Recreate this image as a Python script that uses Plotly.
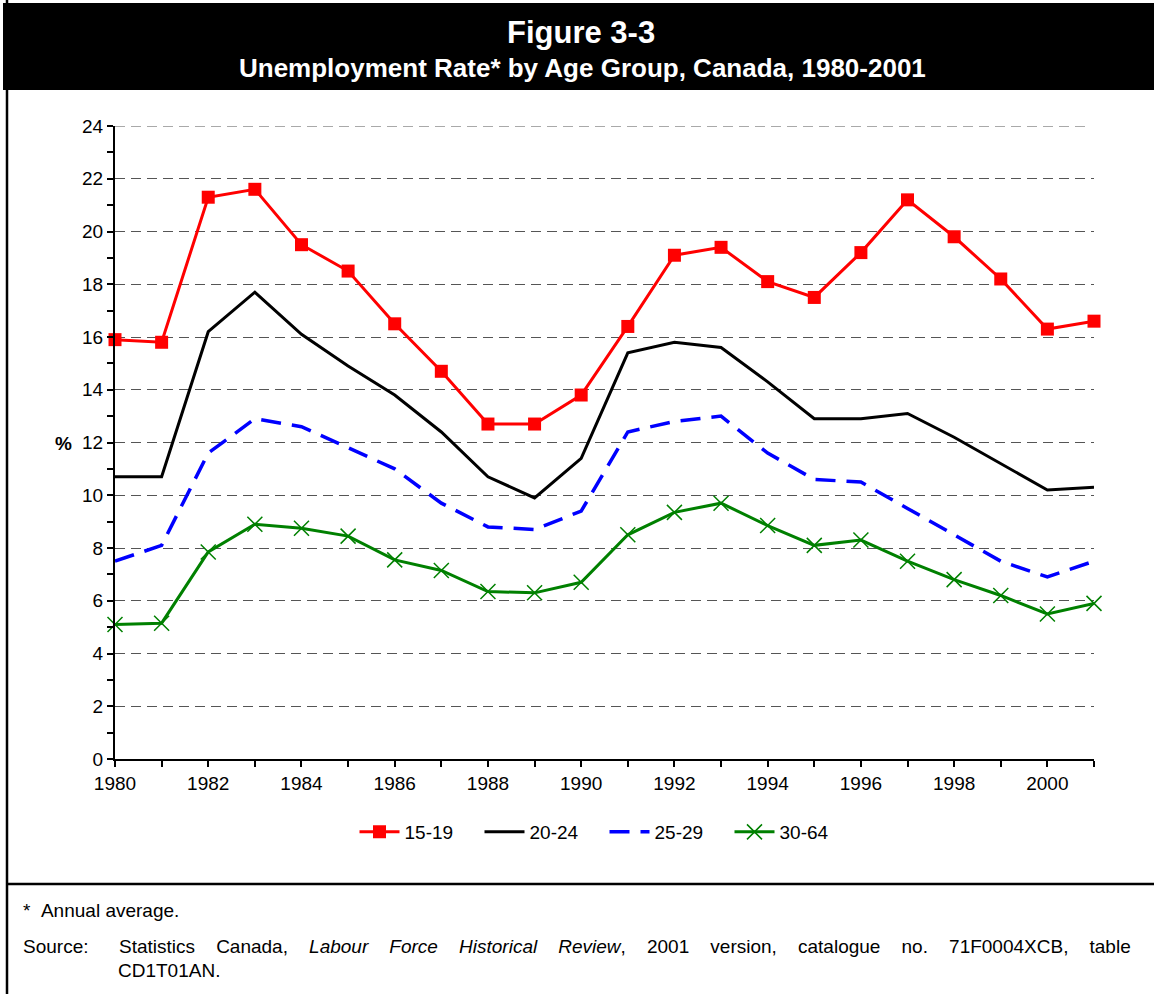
import plotly.graph_objects as go

years = list(range(1980, 2002))
age_15_19 = [15.9, 15.8, 21.3, 21.6, 19.5, 18.5, 16.5, 14.7, 12.7, 12.7, 13.8,
             16.4, 19.1, 19.4, 18.1, 17.5, 19.2, 21.2, 19.8, 18.2, 16.3, 16.6]
age_20_24 = [10.7, 10.7, 16.2, 17.7, 16.1, 14.9, 13.8, 12.4, 10.7, 9.9, 11.4,
             15.4, 15.8, 15.6, 14.3, 12.9, 12.9, 13.1, 12.2, 11.2, 10.2, 10.3]
age_25_29 = [7.5, 8.1, 11.6, 12.9, 12.6, 11.8, 11.0, 9.7, 8.8, 8.7, 9.4,
             12.4, 12.8, 13.0, 11.6, 10.6, 10.5, 9.5, 8.5, 7.5, 6.9, 7.5]
age_30_64 = [5.1, 5.15, 7.85, 8.9, 8.75, 8.45, 7.55, 7.15, 6.35, 6.3, 6.7,
             8.5, 9.35, 9.7, 8.85, 8.1, 8.3, 7.5, 6.8, 6.2, 5.5, 5.9]
x_tickvals = list(range(1980, 2001, 2))
x_ticktext = [str(v) for v in x_tickvals]
y_tickvals = list(range(0, 25, 2))

W, H = 1154, 994
L, R, T, B = 115, 1094, 126, 759


def px(x):
    return (x - L) / (R - L)


def py(y):
    return (B - y) / (B - T)


FONT = "Liberation Sans, Arial, sans-serif"
FS = 19

fig = go.Figure()
fig.add_trace(go.Scatter(x=years, y=age_15_19, name="15-19", mode="lines+markers",
                         line=dict(color="#FF0000", width=3),
                         marker=dict(symbol="square", size=13, color="#FF0000"),
                         cliponaxis=False))
fig.add_trace(go.Scatter(x=years, y=age_20_24, name="20-24", mode="lines",
                         line=dict(color="#000000", width=3), cliponaxis=False))
fig.add_trace(go.Scatter(x=years, y=age_25_29, name="25-29", mode="lines",
                         line=dict(color="#0000FF", width=3.5, dash="20px,11px"),
                         cliponaxis=False))
fig.add_trace(go.Scatter(x=years, y=age_30_64, name="30-64", mode="lines+markers",
                         line=dict(color="#008000", width=3),
                         marker=dict(symbol="x-thin-open", size=15,
                                     line=dict(color="#008000", width=1.5)),
                         cliponaxis=False))

fig.update_xaxes(range=[1980, 2001], tickvals=x_tickvals, ticktext=x_ticktext,
                 ticks="outside", ticklen=6, tickwidth=1.5, tickcolor="black",
                 minor=dict(dtick=1, tick0=1980, ticks="outside", ticklen=6,
                            tickwidth=1.5, tickcolor="black", showgrid=False),
                 showline=True, linecolor="black", linewidth=2,
                 showgrid=False, zeroline=False,
                 tickfont=dict(family=FONT, size=FS, color="black"))
fig.update_yaxes(range=[0, 24], tickvals=y_tickvals,
                 ticks="outside", ticklen=6, tickwidth=1.5, tickcolor="black",
                 minor=dict(dtick=1, ticks="outside", ticklen=6, tickwidth=1.5,
                            tickcolor="black", showgrid=False),
                 showline=True, linecolor="black", linewidth=2,
                 showgrid=True, gridcolor="#555555", gridwidth=1,
                 griddash="10px,6px", zeroline=False,
                 tickfont=dict(family=FONT, size=FS, color="black"))

shapes = [
    # top gridline (not drawn by plotly at range edge)
    dict(type="line", xref="paper", yref="y", x0=0, x1=px(1090), y0=24, y1=24,
         line=dict(color="#555555", width=1, dash="10px,6px"), layer="below"),
    # title box
    dict(type="rect", xref="paper", yref="paper",
         x0=px(3), x1=px(1160), y0=py(90), y1=py(3),
         fillcolor="black", line=dict(width=0), layer="above"),
    # left border
    dict(type="line", xref="paper", yref="paper",
         x0=px(7), x1=px(7), y0=py(0), y1=py(1000),
         line=dict(color="black", width=2.5)),
    # separator above notes
    dict(type="line", xref="paper", yref="paper",
         x0=px(7), x1=px(1160), y0=py(884), y1=py(884),
         line=dict(color="black", width=2.5)),
]

gap = "&nbsp;" * 4
source_rest = gap.join(["Statistics", "Canada,", "<i>Labour", "Force", "Historical",
                        "Review</i>,", "2001", "version,", "catalogue", "no.",
                        "71F0004XCB,", "table"])

annotations = [
    dict(text="<b>Figure 3-3</b>", x=px(581), y=py(32), xref="paper", yref="paper",
         showarrow=False, xanchor="center", yanchor="middle",
         font=dict(family=FONT, size=31, color="white")),
    dict(text="<b>Unemployment Rate* by Age Group, Canada, 1980-2001</b>",
         x=px(582), y=py(68), xref="paper", yref="paper",
         showarrow=False, xanchor="center", yanchor="middle",
         font=dict(family=FONT, size=26, color="white")),
    dict(text="<b>%</b>", x=px(63), y=py(443), xref="paper", yref="paper",
         showarrow=False, xanchor="center", yanchor="middle",
         font=dict(family=FONT, size=FS, color="black")),
    dict(text="*&nbsp;&nbsp;Annual average.", x=px(21), y=py(910), xref="paper", yref="paper",
         showarrow=False, xanchor="left", yanchor="middle",
         font=dict(family=FONT, size=FS, color="black")),
    dict(text="Source:", x=px(21), y=py(946), xref="paper", yref="paper",
         showarrow=False, xanchor="left", yanchor="middle",
         font=dict(family=FONT, size=FS, color="black")),
    dict(text=source_rest, x=px(117), y=py(946), xref="paper", yref="paper",
         showarrow=False, xanchor="left", yanchor="middle",
         font=dict(family=FONT, size=FS, color="black")),
    dict(text="CD1T01AN.", x=px(116), y=py(970), xref="paper", yref="paper",
         showarrow=False, xanchor="left", yanchor="middle",
         font=dict(family=FONT, size=FS, color="black")),
]

fig.update_layout(
    width=W, height=H,
    margin=dict(l=L, r=W - R, t=T, b=H - B, pad=0),
    paper_bgcolor="white", plot_bgcolor="white",
    font=dict(family=FONT, size=FS, color="black"),
    showlegend=True,
    legend=dict(orientation="h", x=0.5, xanchor="center", y=py(832),
                yanchor="middle", font=dict(family=FONT, size=FS, color="black"),
                bgcolor="rgba(0,0,0,0)", tracegroupgap=0, itemwidth=40,
                entrywidth=70, entrywidthmode="pixels"),
    shapes=shapes, annotations=annotations,
)

fig.write_html("out.html", config={"displayModeBar": False},
               post_script="document.body.style.margin='0';"
                           "document.body.style.overflow='hidden';")
